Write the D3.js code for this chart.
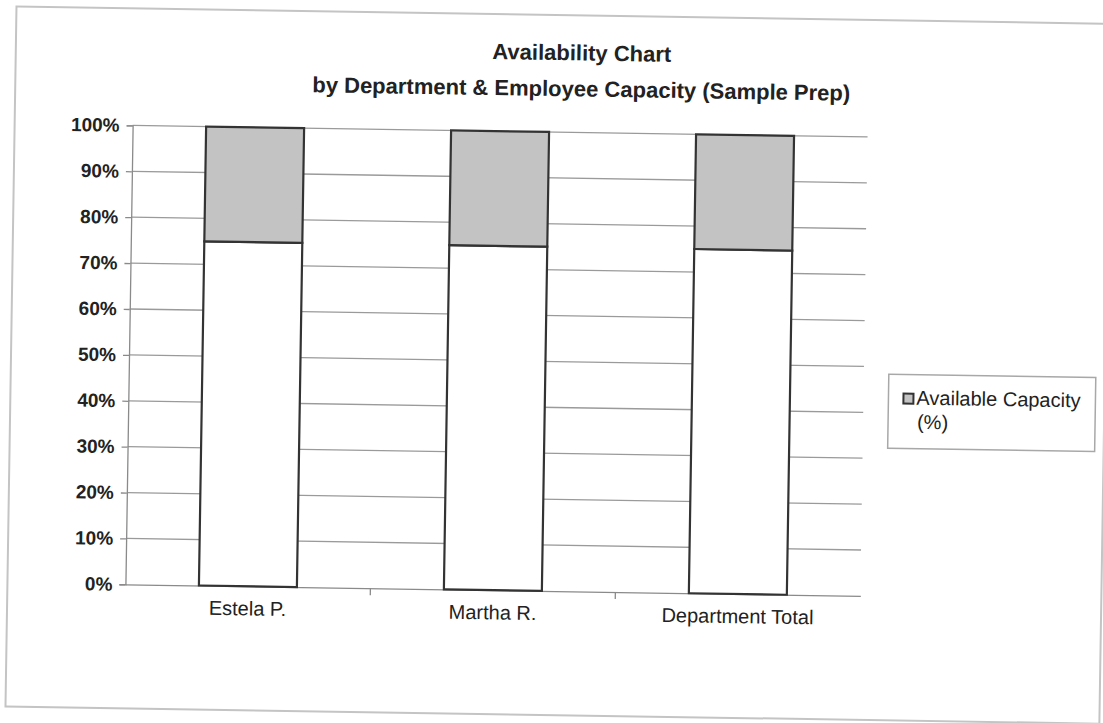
<!DOCTYPE html>
<html>
<head>
<meta charset="utf-8">
<script src="https://cdn.jsdelivr.net/npm/d3@7"></script>
<style>
  body { margin: 0; background: #fff; }
  text { font-family: "Liberation Sans", Arial, sans-serif; fill: #222; }
</style>
</head>
<body>
<div class="viz"></div>
<script>
// data
const categories = ["Estela P.", "Martha R.", "Department Total"]
const usedCapacity = [75, 75, 75]
const availableCapacity = [25, 25, 25]
const yTicks = [0, 10, 20, 30, 40, 50, 60, 70, 80, 90, 100]
const titleLines = ["Availability Chart", "by Department & Employee Capacity (Sample Prep)"]
const legendLines = ["Available Capacity", "(%)"]

const w = 1103
const h = 723

const svg = d3.select(".viz")
  .append("svg")
  .attr("width", w)
  .attr("height", h)

// the scan is tilted a little clockwise
const g = svg.append("g")
  .attr("transform", "rotate(0.9, 550, 360)")

// outer chart frame
g.append("rect")
  .attr("x", 11)
  .attr("y", 15)
  .attr("width", 1094)
  .attr("height", 700)
  .attr("fill", "none")
  .attr("stroke", "#c4c4c4")
  .attr("stroke-width", 2)

var x = d3.scaleBand()
  .domain(categories)
  .range([129, 864])
  .paddingInner(0.6)
  .paddingOuter(0.3)

var y = d3.scaleLinear()
  .domain([0, 100])
  .range([591, 132])

// gridlines
g.selectAll("line.grid")
  .data(yTicks.filter(d => d > 0))
  .enter()
  .append("line")
  .attr("class", "grid")
  .attr("x1", 129)
  .attr("x2", 864)
  .attr("y1", d => y(d))
  .attr("y2", d => y(d))
  .attr("stroke", "#9a9a9a")
  .attr("stroke-width", 1.3)

// y axis
const yAxis = g.append("g")
  .attr("transform", "translate(129,0)")
  .call(d3.axisLeft(y).tickValues(yTicks).tickSize(6).tickPadding(7).tickFormat(d => d + "%"))
yAxis.select(".domain").attr("stroke", "#8a8a8a").attr("stroke-width", 1.3)
yAxis.selectAll(".tick line").attr("stroke", "#8a8a8a").attr("stroke-width", 1.3)
yAxis.selectAll("text")
  .style("font-size", "19px")
  .style("font-weight", "bold")
  .attr("fill", "#222")

// x axis with category labels
const xAxis = g.append("g")
  .attr("transform", "translate(0,591)")
  .call(d3.axisBottom(x).tickSize(0).tickPadding(15))
xAxis.select(".domain").attr("stroke", "#8a8a8a").attr("stroke-width", 1.3)
xAxis.selectAll("text")
  .style("font-size", "20px")
  .attr("fill", "#222")

// tick marks between categories
const bounds = categories.slice(1).map(c => x(c) - x.step() * x.paddingInner() / 2)
g.selectAll("line.xtick")
  .data(bounds)
  .enter()
  .append("line")
  .attr("class", "xtick")
  .attr("x1", d => d)
  .attr("x2", d => d)
  .attr("y1", 591)
  .attr("y2", 598)
  .attr("stroke", "#8a8a8a")
  .attr("stroke-width", 1.3)

// stacked bars
const rows = categories.map((c, i) => ({ cat: c, used: usedCapacity[i], available: availableCapacity[i] }))
const stacked = d3.stack().keys(["used", "available"])(rows)
const fills = { used: "#ffffff", available: "#c3c3c3" }

g.selectAll("g.layer")
  .data(stacked)
  .enter()
  .append("g")
  .attr("class", "layer")
  .attr("fill", d => fills[d.key])
  .selectAll("rect")
  .data(d => d)
  .enter()
  .append("rect")
  .attr("x", d => x(d.data.cat))
  .attr("y", d => y(d[1]))
  .attr("width", x.bandwidth())
  .attr("height", d => y(d[0]) - y(d[1]))
  .attr("stroke", "#333")
  .attr("stroke-width", 2.2)

// title
g.selectAll("text.title")
  .data(titleLines)
  .enter()
  .append("text")
  .attr("class", "title")
  .attr("x", 577)
  .attr("y", (d, i) => 60 + i * 36)
  .attr("text-anchor", "middle")
  .style("font-size", "22px")
  .style("font-weight", "bold")
  .text(d => d)

// legend
const legend = g.append("g")
legend.append("rect")
  .attr("x", 889)
  .attr("y", 369)
  .attr("width", 207)
  .attr("height", 74)
  .attr("fill", "#fff")
  .attr("stroke", "#a8a8a8")
  .attr("stroke-width", 1.5)
legend.append("rect")
  .attr("x", 904)
  .attr("y", 388)
  .attr("width", 10)
  .attr("height", 10)
  .attr("fill", fills.available)
  .attr("stroke", "#333")
  .attr("stroke-width", 2)
legend.selectAll("text")
  .data(legendLines)
  .enter()
  .append("text")
  .attr("x", (d, i) => i == 0 ? 917 : 918)
  .attr("y", (d, i) => 399 + i * 24)
  .style("font-size", "20px")
  .text(d => d)
</script>
</body>
</html>
